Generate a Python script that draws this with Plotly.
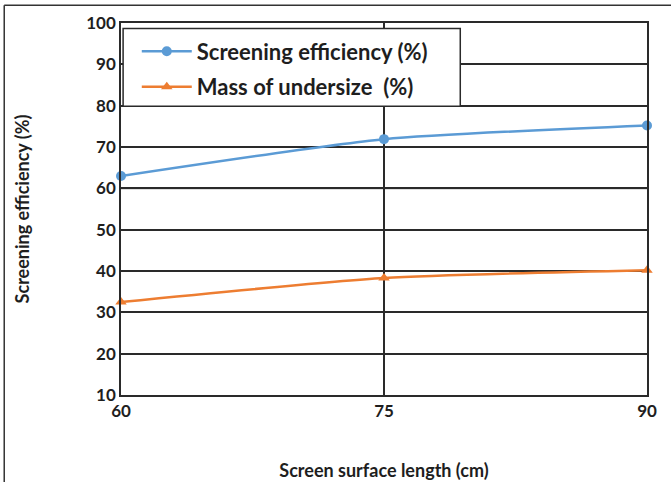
import plotly.graph_objects as go

# Screen surface length (cm)
lengths = [60, 75, 90]
# Screening efficiency (%)
efficiency = [63.0, 71.9, 75.2]
# Mass of undersize (%)
undersize = [32.5, 38.3, 40.2]

y_ticks = [10, 20, 30, 40, 50, 60, 70, 80, 90, 100]

BLUE = "#5B9BD5"
ORANGE = "#ED7D31"
FONT = "Lato"
INK = "#1e1e1e"

fig = go.Figure()
fig.add_trace(go.Scatter(
    x=lengths, y=efficiency, name="Screening efficiency (%)", legendgroup="a",
    mode="lines+markers", line=dict(color=BLUE, width=2.5, shape="spline", smoothing=0.6),
    marker=dict(symbol="circle", size=10, color=BLUE),
    cliponaxis=False,
))
fig.add_trace(go.Scatter(
    x=lengths, y=undersize, name="Mass of undersize  (%)", legendgroup="b",
    mode="lines+markers", line=dict(color=ORANGE, width=2.5, shape="spline", smoothing=0.6),
    marker=dict(symbol="triangle-up", size=10, color=ORANGE),
    cliponaxis=False,
))

# lighter gridline at 60
fig.add_shape(type="line", xref="paper", x0=0, x1=1, yref="y", y0=60, y1=60,
              line=dict(color="#bdbdbd", width=2.5), layer="below")

# legend frame
fig.add_shape(type="rect", xref="paper", yref="paper",
              x0=0.004, x1=0.645, y0=0.776, y1=0.985,
              line=dict(color="#2a2a2a", width=1.5), fillcolor="white", layer="above")

# outer frame (top and left edges)
fig.add_shape(type="line", xref="paper", yref="paper",
              x0=-0.222, x1=1.06, y0=1.0475, y1=1.0475,
              line=dict(color="#333", width=1.5))
fig.add_shape(type="line", xref="paper", yref="paper",
              x0=-0.222, x1=-0.222, y0=1.0475, y1=-0.25,
              line=dict(color="#333", width=1.5))

fig.update_layout(
    width=671, height=482,
    margin=dict(l=121, r=24, t=23, b=87),
    paper_bgcolor="white", plot_bgcolor="white",
    font=dict(family=FONT, color=INK, size=16),
    showlegend=True,
    legend=dict(
        x=0.03, y=0.98, xanchor="left", yanchor="top",
        bgcolor="rgba(0,0,0,0)", borderwidth=0,
        font=dict(family=FONT, size=22, color=INK, weight="bold"),
        itemwidth=50, tracegroupgap=4,
    ),
)

fig.update_xaxes(
    range=[60, 90], tickvals=lengths, ticktext=[str(v) for v in lengths],
    showgrid=True, gridcolor="#2a2a2a", gridwidth=1.5,
    showline=True, linecolor="#2a2a2a", linewidth=1.5, mirror=True,
    ticks="", zeroline=False, automargin=False,
    tickfont=dict(family=FONT, size=17, color=INK, weight="bold"),
    title=dict(text="Screen surface length (cm)", standoff=44,
               font=dict(family=FONT, size=18, color=INK, weight="bold")),
)
fig.update_yaxes(
    range=[10, 100], tickvals=y_ticks,
    showgrid=True, gridcolor="#2a2a2a", gridwidth=1.5,
    showline=True, linecolor="#2a2a2a", linewidth=1.5, mirror=True,
    ticks="", zeroline=False, automargin=False,
    tickfont=dict(family=FONT, size=17, color=INK, weight="bold"),
    title=dict(text="Screening efficiency (%)", standoff=52,
               font=dict(family=FONT, size=18, color=INK, weight="bold")),
)

fig.write_html("out.html")
